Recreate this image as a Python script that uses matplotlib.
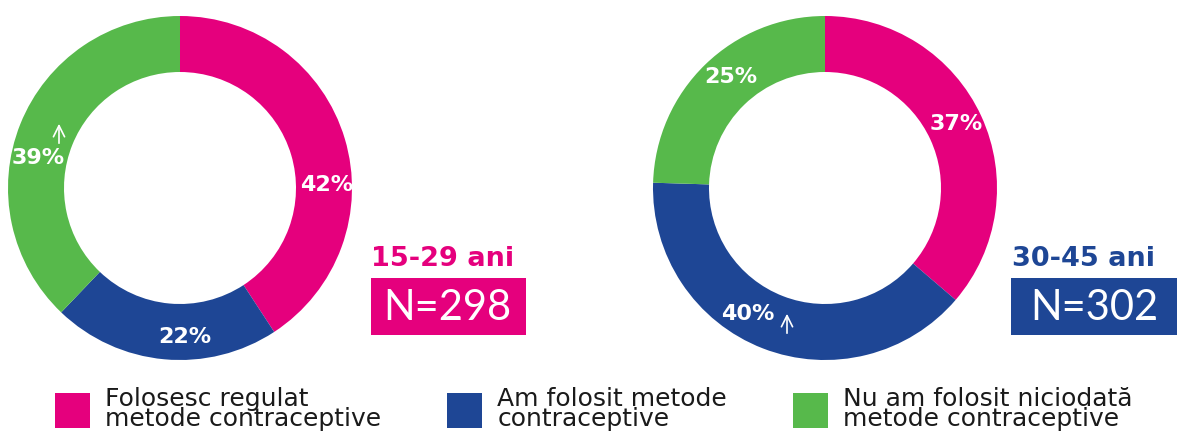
import matplotlib.pyplot as plt
from matplotlib.patches import Patch

# data
categories = ['Folosesc regulat\nmetode contraceptive',
              'Am folosit metode\ncontraceptive',
              'Nu am folosit niciodată\nmetode contraceptive']
colors = ['#E5007D', '#1E4695', '#57B94B']

young_vals = [42, 22, 39]
old_vals = [37, 40, 25]
young_title, young_n = '15-29 ani', 'N=298'
old_title, old_n = '30-45 ani', 'N=302'

H = 434
fig = plt.figure(figsize=(11.78, 4.34), dpi=100)
ax = fig.add_axes([0, 0, 1, 1])

def donut(cx, cy, vals):
    ax.pie(vals, colors=colors, startangle=90, counterclock=False,
           center=(cx, H - cy), radius=172,
           wedgeprops=dict(width=56, linewidth=0), frame=True)

donut(180, 188, young_vals)
donut(825, 188, old_vals)
ax.set_xlim(0, 1178)
ax.set_ylim(0, H)
ax.set_aspect('equal')
ax.axis('off')

lab = dict(color='white', fontsize=16, fontweight='bold', ha='center', va='center',
           family='DejaVu Sans')
# left donut labels
ax.text(327, H - 185, f'{young_vals[0]}%', **lab)
ax.text(185, H - 337, f'{young_vals[1]}%', **lab)
ax.text(38, H - 158, f'{young_vals[2]}%', **lab)
# right donut labels
ax.text(956, H - 124, f'{old_vals[0]}%', **lab)
ax.text(748, H - 314, f'{old_vals[1]}%', **lab)
ax.text(731, H - 77, f'{old_vals[2]}%', **lab)

arrow = dict(arrowstyle='->', color='white', lw=1.2, mutation_scale=20)
ax.annotate('', xy=(59, H - 121), xytext=(59, H - 146), arrowprops=arrow)
ax.annotate('', xy=(787, H - 311), xytext=(787, H - 336), arrowprops=arrow)

# group titles and N boxes
ax.text(371, H - 259, young_title, color=colors[0], fontsize=19.5, fontweight='bold',
        ha='left', va='center')
ax.text(1012, H - 259, old_title, color=colors[1], fontsize=19.5, fontweight='bold',
        ha='left', va='center')
ax.add_patch(plt.Rectangle((371, H - 335), 155, 57, color=colors[0], lw=0))
ax.add_patch(plt.Rectangle((1011, H - 335), 166, 57, color=colors[1], lw=0))
ax.text(447, H - 308, young_n, color='white', fontsize=30, family='Lato',
        fontweight='normal', ha='center', va='center')
ax.text(1094, H - 308, old_n, color='white', fontsize=30, family='Lato',
        fontweight='normal', ha='center', va='center')

handles = [Patch(facecolor=c, edgecolor='none') for c in colors]
fig.legend(handles, categories, loc='lower left', bbox_to_anchor=(55 / 1178, 3 / H),
           ncol=3, frameon=False, handlelength=1.4, handleheight=1.8,
           handletextpad=0.6, columnspacing=2.65, labelspacing=0,
           borderpad=0, borderaxespad=0,
           prop=dict(size=18), labelcolor='#1a1a1a')
for t in fig.legends[0].get_texts():
    t.set_linespacing(0.8)

fig.savefig('out.png', dpi=100)
